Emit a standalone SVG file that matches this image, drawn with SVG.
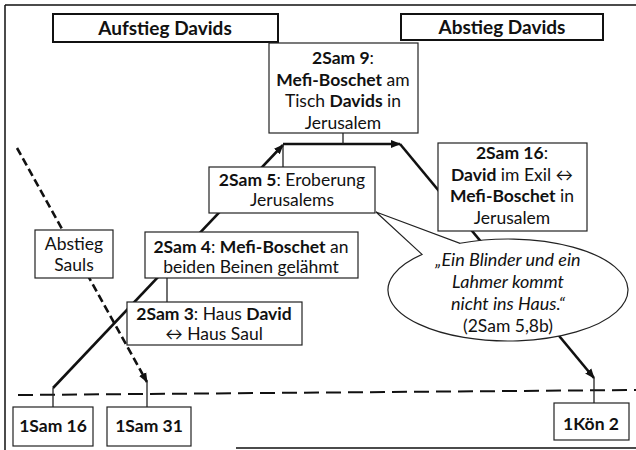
<svg xmlns="http://www.w3.org/2000/svg" width="636" height="450" viewBox="0 0 636 450">
<defs>
<style>
text{font-family:Lato,"Liberation Sans",sans-serif;font-size:17.5px;fill:#111;text-anchor:middle}
.b{font-weight:bold}
.i{font-style:italic;font-size:18px}
.h{font-weight:bold;font-size:19px}
.box{fill:#fff;stroke:#222;stroke-width:1.2}
.hdr{fill:#fff;stroke:#111;stroke-width:2}
.ln{fill:none;stroke:#111;stroke-width:2.6}
.tk{fill:none;stroke:#222;stroke-width:1.3}
.dash{fill:none;stroke:#111;stroke-width:2.6;stroke-dasharray:8 4}
.hdash{fill:none;stroke:#111;stroke-width:2;stroke-dasharray:15 7}
.frame{fill:none;stroke:#111;stroke-width:1.5}
</style>
<marker id="ah" viewBox="0 0 10 10" refX="9" refY="5" markerWidth="10" markerHeight="10" markerUnits="userSpaceOnUse" orient="auto"><path d="M0,1 L10,5 L0,9 z" fill="#111"/></marker>
</defs>
<rect width="636" height="450" fill="#fff"/>
<g id="frame">
<path class="frame" d="M5,5 H636 M5,5 V450 M236,448 H636"/>
</g>
<g id="connectors">
<path class="hdash" d="M18,395 L636,390"/>
<path class="dash" d="M17,148 L147,382" marker-end="url(#ah)"/>
<path class="tk" d="M147,382 V407"/>
<path class="tk" d="M53,388 V407"/>
<path class="ln" d="M53,388 L283,145" marker-end="url(#ah)"/>
<path class="tk" d="M283,145 V167"/>
<path class="ln" d="M283,144 H400" marker-end="url(#ah)"/>
<path class="tk" d="M343,133 V144"/>
<path class="ln" d="M400,144 L594,378" marker-end="url(#ah)"/>
<path class="tk" d="M594,378 V403"/>
<path class="tk" d="M167,278 V302"/>
</g>
<g id="aufstieg">
<rect class="hdr" x="53" y="14" width="225" height="28"/>
<text class="h" x="165" y="34.5">Aufstieg Davids</text>
</g>
<g id="abstieg">
<rect class="hdr" x="401" y="14" width="202" height="26"/>
<text class="h" x="502" y="33.5">Abstieg Davids</text>
</g>
<g id="sam9">
<rect class="box" x="269" y="43" width="149" height="90"/>
<text x="343" y="64"><tspan class="b">2Sam 9</tspan>:</text>
<text x="343" y="85.5"><tspan class="b">Mefi-Boschet</tspan> am</text>
<text x="343" y="107"><tspan>Tisch </tspan><tspan class="b">Davids</tspan> in</text>
<text x="343" y="128.5">Jerusalem</text>
</g>
<g id="sam16">
<rect class="box" x="438" y="143" width="149" height="88"/>
<text x="512" y="159"><tspan class="b">2Sam 16</tspan>:</text>
<text x="512" y="180.5"><tspan class="b">David</tspan> im Exil ↔</text>
<text x="512" y="202"><tspan class="b">Mefi-Boschet</tspan> in</text>
<text x="512" y="223.5">Jerusalem</text>
</g>
<g id="sam5">
<rect class="box" x="209" y="167" width="166" height="46"/>
<text x="292" y="186"><tspan class="b">2Sam 5</tspan>: Eroberung</text>
<text x="292" y="206">Jerusalems</text>
</g>
<g id="sam4">
<rect class="box" x="145" y="232" width="213" height="46"/>
<text x="251" y="253"><tspan class="b">2Sam 4</tspan>: <tspan class="b">Mefi-Boschet</tspan> an</text>
<text x="251" y="273">beiden Beinen gelähmt</text>
</g>
<g id="sauls">
<rect class="box" x="35" y="230" width="78" height="48"/>
<text x="74" y="250">Abstieg</text>
<text x="74" y="271">Sauls</text>
</g>
<g id="sam3">
<rect class="box" x="127" y="302" width="175" height="43"/>
<text x="214" y="320"><tspan class="b">2Sam 3</tspan>: Haus <tspan class="b">David</tspan></text>
<text x="214" y="340">↔ Haus Saul</text>
</g>
<g id="callout">
<path class="box" d="M422,254.43 L376,212 L460,243.26 A120,51 0 1,1 422,254.43 Z"/>
<text class="i" x="508" y="266">„Ein Blinder und ein</text>
<text class="i" x="508" y="288">Lahmer kommt</text>
<text class="i" x="508" y="310">nicht ins Haus.“</text>
<text x="508" y="332">(2Sam 5,8b)</text>
</g>
<g id="sam16b">
<rect class="box" x="13" y="407" width="80" height="39"/>
<text class="b" x="53" y="432">1Sam 16</text>
</g>
<g id="sam31">
<rect class="box" x="107" y="407" width="84" height="39"/>
<text class="b" x="149" y="432">1Sam 31</text>
</g>
<g id="koen2">
<rect class="box" x="554" y="403" width="75" height="37"/>
<text class="b" x="591" y="430">1Kön 2</text>
</g>
</svg>
